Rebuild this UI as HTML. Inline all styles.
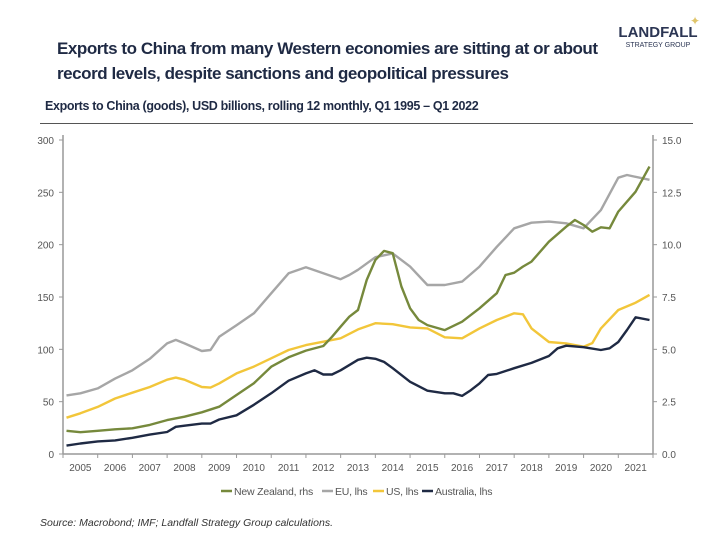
<!DOCTYPE html>
<html><head><meta charset="utf-8"><style>
body{margin:0;background:#fff;width:720px;height:540px;overflow:hidden;font-family:"Liberation Sans",sans-serif;}
#wrap{position:relative;width:720px;height:540px;}
.t{position:absolute;color:#1f2a44;}
</style></head><body><div id="wrap">
<div class="t" style="left:57px;top:36px;font-size:17px;font-weight:bold;line-height:25px;white-space:nowrap;letter-spacing:-0.45px;">Exports to China from many Western economies are sitting at or about<br>record levels, despite sanctions and geopolitical pressures</div>
<div class="t" style="left:618px;top:24px;width:80px;text-align:center;">
<div style="font-size:15px;font-weight:bold;color:#2b3553;">LANDFALL</div>
<div style="font-size:7px;color:#2b3553;margin-top:1px;">STRATEGY GROUP</div>
<div style="position:absolute;left:72px;top:-10px;color:#e0c56a;font-size:12px;">✦</div></div>
<div class="t" style="left:45px;top:99px;font-size:12.5px;font-weight:bold;color:#1f2a44;letter-spacing:-0.35px;">Exports to China (goods), USD billions, rolling 12 monthly, Q1 1995 – Q1 2022</div>
<div style="position:absolute;left:40px;top:123px;width:653px;height:1px;background:#555;"></div>
<svg id="chart" width="720" height="540" style="position:absolute;left:0;top:0;"></svg>
<div class="t" style="left:40px;top:517px;font-size:10.5px;font-style:italic;color:#333;">Source: Macrobond; IMF; Landfall Strategy Group calculations.</div>
</div>
<script>
const years=[2005,2006,2007,2008,2009,2010,2011,2012,2013,2014,2015,2016,2017,2018,2019,2020,2021];
const lhsTicks=[0,50,100,150,200,250,300];
const rhsTicks=[0,2.5,5,7.5,10,12.5,15];
const ausT=[2005.1,2005.5,2006,2006.5,2007,2007.5,2008,2008.25,2008.5,2009,2009.25,2009.5,2010,2010.5,2011,2011.5,2012,2012.25,2012.5,2012.75,2013,2013.5,2013.75,2014,2014.25,2014.5,2015,2015.5,2016,2016.25,2016.5,2016.75,2017,2017.25,2017.5,2018,2018.5,2019,2019.25,2019.5,2020,2020.5,2020.75,2021,2021.25,2021.5,2021.9];
const ausV=[8,10,12,13,15.5,18.5,21,26,27,29,29,33,37,47,58,70,77,80,76,76,80,90,92,91,88,82,69,60.5,58,58,55.5,61,67.5,75.5,76.5,82,87,93.6,101,103.5,102,99.4,101,107,118.5,130.6,128];
const usT=[2005.1,2005.5,2006,2006.5,2007,2007.5,2008,2008.25,2008.5,2009,2009.25,2009.5,2010,2010.5,2011,2011.5,2012,2012.5,2013,2013.5,2014,2014.5,2015,2015.5,2016,2016.5,2017,2017.5,2018,2018.25,2018.5,2019,2019.5,2020,2020.25,2020.5,2021,2021.5,2021.9];
const usV=[34.7,38.9,45,53,58.6,64,71,73,71,64,63.4,67.5,77,83.5,91.4,99.4,104,107.3,110.5,119,125,124,121,120,111.5,110.5,120,128,134.4,133.5,120,107,105.7,102.5,106,120,137.6,144.6,152];
const euT=[2005.1,2005.5,2006,2006.5,2007,2007.5,2008,2008.25,2008.5,2009,2009.25,2009.5,2010,2010.5,2011,2011.5,2012,2012.5,2013,2013.25,2013.5,2014,2014.5,2015,2015.5,2016,2016.5,2017,2017.5,2018,2018.5,2019,2019.5,2020,2020.5,2021,2021.25,2021.9];
const euV=[56,58,62.7,72,80,91,105.7,109,105.7,98.4,99.4,112,123,134.4,153.5,172.6,178.4,172.6,167,171,176,188,191.7,179,161.5,161.5,164.7,179,198,215.6,221,222,220.4,215.6,233,264,266.6,262];
const nzT=[2005.1,2005.5,2006,2006.5,2007,2007.5,2008,2008.5,2009,2009.5,2010,2010.5,2011,2011.5,2012,2012.5,2012.75,2013,2013.25,2013.5,2013.75,2014,2014.25,2014.5,2014.75,2015,2015.25,2015.5,2016,2016.5,2017,2017.5,2017.75,2018,2018.25,2018.5,2019,2019.5,2019.75,2020,2020.25,2020.5,2020.75,2021,2021.5,2021.9];
const nzV=[1.11,1.04,1.11,1.18,1.23,1.39,1.62,1.78,1.99,2.26,2.82,3.38,4.17,4.62,4.94,5.16,5.6,6.08,6.56,6.88,8.31,9.27,9.7,9.59,8.0,6.96,6.4,6.16,5.92,6.32,6.96,7.68,8.55,8.66,8.95,9.19,10.14,10.86,11.18,10.94,10.62,10.83,10.78,11.58,12.53,13.73];

const svg=document.getElementById('chart');const NS='http://www.w3.org/2000/svg';
const X0=63,X1=653,Y0=454,Y1=140;
const xs=t=>X0+(t-2005)*(X1-X0)/17;
const yl=v=>Y0-v*(Y0-Y1)/300;
const yr=v=>Y0-v*(Y0-Y1)/15;
function mk(tag,a,p){const e=document.createElementNS(NS,tag);for(const k in a)e.setAttribute(k,a[k]);(p||svg).appendChild(e);return e;}
let e;
e=mk('line',{x1:X0,y1:Y1-5,x2:X0,y2:Y0,stroke:'#999','stroke-width':1.5});


e=mk('line',{x1:X1,y1:Y1-5,x2:X1,y2:Y0,stroke:'#999','stroke-width':1.5});


e=mk('line',{x1:X0,y1:Y0,x2:X1,y2:Y0,stroke:'#999','stroke-width':1.5});


lhsTicks.forEach(v=>{mk('line',{x1:X0-4,y1:yl(v),x2:X0,y2:yl(v),stroke:'#999'});
 e=mk('text',{x:X0-9,y:yl(v)+4,'text-anchor':'end','font-size':10,fill:'#555'});e.textContent=v;
 
 });
rhsTicks.forEach(v=>{mk('line',{x1:X1,y1:yr(v),x2:X1+4,y2:yr(v),stroke:'#999'});
 e=mk('text',{x:X1+9,y:yr(v)+4,'font-size':10,fill:'#555'});e.textContent=v.toFixed(1);
 
 });
years.forEach(y=>{mk('line',{x1:xs(y),y1:Y0,x2:xs(y),y2:Y0+4,stroke:'#999'});
 e=mk('text',{x:xs(y+0.5),y:Y0+17,'text-anchor':'middle','font-size':10,fill:'#555'});e.textContent=y;
 
 });
mk('line',{x1:X1,y1:Y0,x2:X1,y2:Y0+4,stroke:'#999'});
function series(T,V,fy,col,name){const d=T.map((t,i)=>(i?'L':'M')+xs(t).toFixed(1)+' '+fy(V[i]).toFixed(1)).join(' ');
 const p=mk('path',{d:d,fill:'none',stroke:col,'stroke-width':2.4,'stroke-linejoin':'round'});
 
 }
series(euT,euV,yl,'#a6a6a6','eu-line');
series(usT,usV,yl,'#f2c63a','us-line');
series(ausT,ausV,yl,'#1f2a44','australia-line');
series(nzT,nzV,yr,'#76893c','new-zealand-line');
const leg=[['New Zealand, rhs','#76893c',221],['EU, lhs','#a6a6a6',322],['US, lhs','#f2c63a',373],['Australia, lhs','#1f2a44',422]];
leg.forEach(l=>{const g=mk('g',{});
 
 
 mk('line',{x1:l[2],y1:491,x2:l[2]+11,y2:491,stroke:l[1],'stroke-width':2.5},g);
 const t=mk('text',{x:l[2]+13,y:495,'font-size':10.5,fill:'#555','letter-spacing':'-0.2'},g);t.textContent=l[0];});
</script></body></html>
